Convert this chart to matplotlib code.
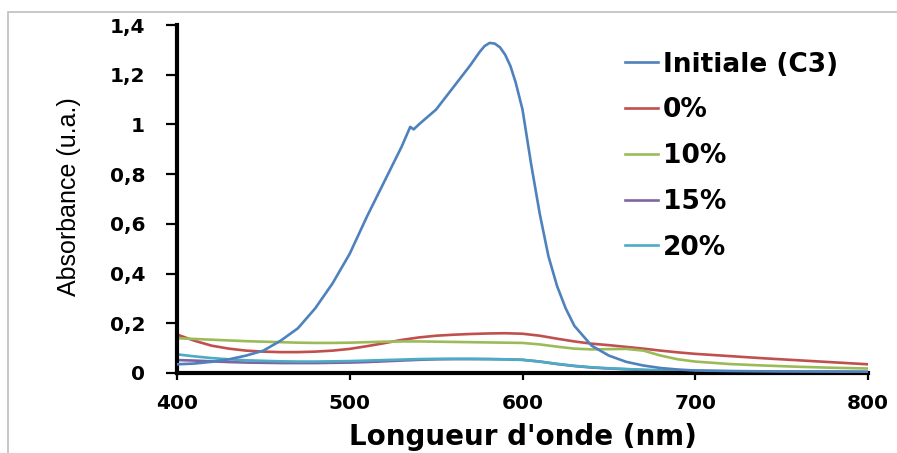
import matplotlib
matplotlib.use("Agg")
import matplotlib.pyplot as plt
from matplotlib.patches import Rectangle

# ---- data ----
x_init = [400, 410, 420, 430, 440, 450, 460, 470, 480, 490, 500, 510, 520, 530, 535, 537,
          540, 550, 560, 570, 575, 578, 581, 584, 587, 590, 593, 596, 600, 605, 610, 615,
          620, 625, 630, 640, 650, 660, 670, 680, 690, 700, 720, 750, 800]
y_init = [0.035, 0.038, 0.045, 0.055, 0.07, 0.09, 0.13, 0.18, 0.26, 0.36, 0.48, 0.63, 0.77,
          0.91, 0.99, 0.98, 1.00, 1.06, 1.15, 1.24, 1.29, 1.315, 1.328, 1.325, 1.31, 1.28,
          1.235, 1.17, 1.06, 0.84, 0.64, 0.47, 0.35, 0.26, 0.19, 0.11, 0.07, 0.045, 0.03,
          0.02, 0.014, 0.01, 0.008, 0.006, 0.005]

x_other = [400, 410, 420, 430, 440, 450, 460, 470, 480, 490, 500, 510, 520, 530, 540, 550,
           560, 570, 580, 590, 600, 610, 620, 630, 640, 650, 660, 670, 680, 690, 700, 720,
           740, 760, 780, 800]
y_0 = [0.155, 0.13, 0.11, 0.098, 0.09, 0.086, 0.084, 0.084, 0.086, 0.09, 0.097, 0.108, 0.12,
       0.133, 0.143, 0.15, 0.154, 0.157, 0.159, 0.16, 0.158, 0.15, 0.138, 0.127, 0.118, 0.112,
       0.105, 0.098, 0.09, 0.083, 0.077, 0.068, 0.059, 0.051, 0.043, 0.035]
y_10 = [0.14, 0.137, 0.134, 0.131, 0.128, 0.126, 0.124, 0.122, 0.121, 0.121, 0.122, 0.124,
        0.126, 0.127, 0.127, 0.126, 0.125, 0.124, 0.123, 0.122, 0.121, 0.115, 0.106, 0.098,
        0.095, 0.096, 0.097, 0.09, 0.07, 0.055, 0.046, 0.036, 0.03, 0.025, 0.021, 0.018]
y_15 = [0.052, 0.05, 0.047, 0.044, 0.042, 0.041, 0.04, 0.04, 0.04, 0.041, 0.042, 0.044,
        0.047, 0.05, 0.053, 0.055, 0.056, 0.056, 0.056, 0.055, 0.053, 0.046, 0.036, 0.028,
        0.022, 0.018, 0.015, 0.012, 0.01, 0.009, 0.008, 0.006, 0.005, 0.004, 0.004, 0.003]
y_20 = [0.075, 0.067, 0.06, 0.055, 0.051, 0.049, 0.047, 0.046, 0.046, 0.047, 0.048, 0.05,
        0.052, 0.054, 0.056, 0.057, 0.057, 0.057, 0.056, 0.055, 0.053, 0.046, 0.037, 0.029,
        0.023, 0.019, 0.016, 0.013, 0.011, 0.01, 0.009, 0.007, 0.006, 0.005, 0.005, 0.004]

labels = ["Initiale (C3)", "0%", "10%", "15%", "20%"]
colors = ["#4F81BD", "#C0504D", "#9BBB59", "#8064A2", "#4BACC6"]
x_ticks = [400, 500, 600, 700, 800]
y_ticks = [0, 0.2, 0.4, 0.6, 0.8, 1.0, 1.2, 1.4]
y_tick_labels = ["0", "0,2", "0,4", "0,6", "0,8", "1", "1,2", "1,4"]

# ---- figure ----
W, H = 897, 453
fig = plt.figure(figsize=(W / 100, H / 100), dpi=100)
ax = fig.add_axes([177 / W, 1 - 373 / H, (868 - 177) / W, (373 - 25) / H])

# border of the chart area
fig.patches.append(Rectangle((8 / W, -0.1), 1.2, 1 - 12 / H + 0.1, transform=fig.transFigure,
                             fill=False, edgecolor="#BFBFBF", linewidth=1.2))

ax.plot(x_init, y_init, color=colors[0], lw=1.9, label=labels[0], zorder=3,
        solid_joinstyle="round")
ax.plot(x_other, y_0, color=colors[1], lw=1.9, label=labels[1])
ax.plot(x_other, y_10, color=colors[2], lw=1.9, label=labels[2])
ax.plot(x_other, y_15, color=colors[3], lw=1.9, label=labels[3])
ax.plot(x_other, y_20, color=colors[4], lw=1.9, label=labels[4])

ax.set_xlim(400, 800)
ax.set_ylim(0, 1.4)
ax.set_xticks(x_ticks)
ax.set_xticklabels([str(t) for t in x_ticks])
ax.set_yticks(y_ticks)
ax.set_yticklabels(y_tick_labels)

for s in ["top", "right"]:
    ax.spines[s].set_visible(False)
for s in ["left", "bottom"]:
    ax.spines[s].set_linewidth(3)
    ax.spines[s].set_color("black")

ax.tick_params(axis="y", direction="out", length=8, width=1.6, pad=15)
ax.tick_params(axis="x", direction="out", length=5, width=1.6, pad=10)
for lab in ax.get_xticklabels() + ax.get_yticklabels():
    lab.set_fontweight("bold")
    lab.set_fontsize(14.5)
    lab.set_family("DejaVu Sans")

ax.set_xlabel("Longueur d'onde (nm)", fontsize=20, fontweight="bold", family="DejaVu Sans")
ax.xaxis.set_label_coords(0.5, (373 - 423) / 348)
ax.set_ylabel("Absorbance (u.a.)", fontsize=18, family=["Liberation Sans"])
ax.yaxis.set_label_coords((81 - 177) / 691, (373 - 197) / 348)

leg = ax.legend(loc="upper left", bbox_to_anchor=((614 - 177) / (868 - 177), 1.0 - (41 - 25) / 348),
                frameon=False, prop={"family": "DejaVu Sans", "weight": "bold", "size": 19},
                handlelength=1.25, handletextpad=0.2, labelspacing=0.75, borderaxespad=0)

fig.savefig("out.png", dpi=100)
